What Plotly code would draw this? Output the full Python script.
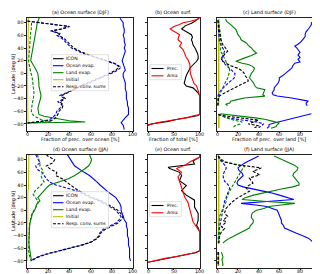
import plotly.graph_objects as go

# ---------------- data ----------------
# (a) Ocean surface (DJF): fraction of precipitation over ocean [%]
A_OCE_LAT = [87, 85, 80, 75, 70, 65, 60, 55, 50, 45, 40, 35, 30, 25, 20, 15, 10, 5, 0, -5, -10, -15, -20, -25, -30, -35, -40, -45, -50, -55, -60, -65, -70, -75, -78, -82, -86, -89]
A_OCE = [88, 89, 91, 91, 92, 92, 91, 92, 92, 93, 92, 93, 92, 91, 90, 91, 92, 93, 91, 91, 92, 93, 93, 93, 94, 94, 94, 95, 95, 96, 96, 96, 93, 90, 89, 91, 92, 92]
A_D_LAT = [82.5, 78, 74, 70, 67, 63, 60, 55, 50, 45, 40, 35, 30, 25, 20, 15, 10, 5, 0, -5, -10, -15, -20, -25, -30, -35, -40, -45, -50, -55, -60, -65, -70, -74, -76, -78.5]
A_OCE_D = [0, 20, 40, 32, 22, 30, 28, 33, 36, 38, 42, 48, 55, 65, 75, 83, 89, 86, 80, 73, 65, 58, 51, 45, 38, 31, 35, 29, 33, 31, 28, 27, 24, 20, 12, 0]
A_TOT_D = [0, 20, 40, 33, 23, 31, 30, 35, 38, 40, 44, 50, 57, 66, 76, 84, 87, 84, 78, 72, 64, 57, 50, 45, 39, 33, 36, 31, 34, 33, 30, 29, 27, 24, 14, 0]
A_LND_LAT = [88, 85, 80, 75, 70, 65, 60, 55, 50, 45, 40, 35, 30, 25, 20, 15, 10, 5, 0, -5, -10, -15, -20, -25, -30, -35, -40, -45, -50, -55, -60, -65, -68, -72, -75, -77, -78.5]
A_LND = [11.5, 10.5, 9.5, 9, 8.5, 8, 7, 6.5, 6.3, 6, 5.4, 4.5, 3.8, 3.5, 3.2, 5, 7, 8.5, 10, 10.5, 11, 11, 11, 11.5, 12, 13, 12.5, 11.7, 10.5, 10, 10.5, 11, 16, 29, 40, 55, 0]
A_LND_D_LAT = [80, 75, 70, 65, 60, 55, 50, 45, 40, 35, 30, 25, 20, 15, 10, 5, 0, -5, -10, -15, -20, -25, -30, -35, -40, -45, -50, -55, -60, -65, -68, -73, -77, -78.5]
A_LND_D = [4, 4, 3.8, 3.2, 3, 2.5, 2.2, 2, 1.8, 1.5, 1.3, 1.2, 1.3, 1.6, 2, 2.5, 3.5, 4.5, 5, 5.4, 5.5, 6, 6.3, 6.2, 5.5, 4.8, 4.4, 4, 3.8, 5, 7, 13, 23, 0]
A_INI_LAT = [88, 60, 30, 0, -30, -60, -78]
A_INI = [1.0, 0.6, 0.4, 0.3, 0.3, 0.4, 0.6]

# (b) Ocean surf.: fraction of total [%]
B_PREC_LAT = [88, 85, 82, 79, 75, 70, 66, 61, 57, 53, 49, 45, 40, 35, 31, 27, 23, 19, 14, 10, 6, 2, -2, -6, -10, -13, -16, -18, -20, -23, -27, -31, -34, -36, -45, -55, -65, -67, -70, -73, -76, -78, -80, -82]
B_PREC = [100, 96, 90, 84, 72, 65, 74, 84, 86, 84, 86, 87, 91, 94, 96, 97, 97, 94, 87, 83, 80, 77, 75, 73, 72, 71, 70, 72, 74, 87, 93, 97, 99, 100, 100, 100, 100, 95, 71, 55, 39, 22, 6, 0]
B_AREA_LAT = [88, 85, 82, 80, 77, 74, 70, 66, 61, 57, 53, 48, 43, 37, 33, 29, 25, 22, 18, 14, 10, 5, 0, -5, -10, -13, -16, -20, -24, -28, -32, -36, -45, -55, -65, -67, -70, -73, -76, -78, -80, -82]
B_AREA = [100, 95, 80, 68, 61, 50, 43, 52, 61, 59, 58, 65, 61, 68, 70, 71, 74, 77, 79, 81, 81, 81, 82, 84, 86, 87, 89, 94, 96, 98, 99, 100, 100, 100, 100, 88, 77, 55, 30, 19, 8, 0]

# (c) Land surface (DJF): fraction of precipitation over land [%]
C_OCE_LAT = [86, 83, 80, 77, 72, 66, 62, 58, 54, 50, 46, 43, 40, 37, 33, 29, 25, 22, 18, 16, 12, 8, 4, 0, -4, -7, -11, -15, -19, -23, -26, -31, -34, -36, -39, -42, -44, -47, -49, -51, None, -64, -66, -68, -70, -73, -76, -78.5, -81, -84, -87]
C_OCE = [93, 94, 91, 91, 89, 86, 85, 85, 83, 81, 78, 75, 77, 78, 80, 78, 80, 78, 80, 75, 73, 72, 69, 67, 63, 60, 60, 59, 57, 55, 55, 53, 54, 58, 72, 82, 88, 86, 86, 87, None, 91, 86, 80, 74, 67, 60, 55, 50, 50, 48]
C_LND_LAT = [86, 82, 77, 73, 69, 65, 61, 57, 53, 48, 44, 40, 36, 32, 28, 24, 21, 19, 16, 14, 11, 8, 4, 0, -4, -7, -11, -15, -19, -23, -26, -31, -34, -36, -39, -42, -44, -47, -49, -51, None, -64, -65, -68, -70.5, -73, -76, -78.5, -81, -84, -87]
C_LND = [8, 9, 13, 16, 18, 19, 20, 22, 23, 28, 30, 33, 35, 38, 33, 26, 20, 18, 24, 30, 34, 36, 35, 33, 32, 31, 33, 35, 36, 38, 46, 45, 44, 46, 26, 18, 13, 12, 8, 10, None, 3, 10, 24, 37, 47, 54, 60, 58, 57, 52]
C_D_LAT = [84, 80, 75, 70, 65, 60, 55, 50, 45, 40, 35, 30, 27, 24, 20, 16, 12, 8, 4, 0, -4, -8, -12, -16, -20, -24, -28, -32, -36, -42, -51, None, -65, -68, -71, -74, -77, -80, -83, -86]
C_OCE_D = [0.3, 0.5, 0.8, 1, 1.5, 1.7, 1.8, 2, 3.5, 5, 7, 6, 5, 4, 5, 6.5, 9, 12, 15, 17, 17, 16, 13, 10, 7.5, 5, 3, 2, 0.5, 0.4, 0.3, None, 1, 5, 12, 25, 38, 45, 43, 40]
C_TOT_D = [0.5, 0.8, 1, 1.5, 1.8, 2, 3, 4, 5.5, 8, 10, 7, 5.5, 4.5, 4, 8, 13, 20, 24, 26, 27, 29, 30, 25, 20, 15, 10, 6, 2, 1, 0.5, None, 1, 10, 25, 40, 35, 30, 40, 36]
C_LND_D = [1, 1.5, 2, 2.2, 2.8, 3.2, 3.6, 4, 3.5, 3.2, 3, 5, 6, 7, 8, 9.5, 10.5, 11.5, 12, 11.5, 11, 10, 8.5, 7.5, 6.5, 5, 4, 2.5, 1.3, 0.8, 0.5, None, 1, 5, 10, 16, 24, 22, 17, 15]
C_INI_LAT = [86, 40, 0, -40, -51, None, -64, -87]
C_INI = [1.5, 1.5, 1.2, 1.2, 1.2, None, 1.5, 1.5]

# (d) Ocean surface (JJA)
D_LAT = [88, 85, 80, 75, 70, 65, 60, 55, 50, 45, 40, 35, 30, 25, 20, 15, 10, 5, 0, -5, -10, -15, -20, -25, -30, -35, -40, -45, -50, -55, -60, -65, -70, -75, -80]
D_OCE = [38, 39, 41, 43, 45, 49, 54, 59, 63, 66, 69, 72, 76, 80, 84, 86, 88, 89, 89, 90, 91, 92, 94, 94, 95, 95, 95, 96, 96, 96, 97, 97, 97, 97, 98]
D_OCE_D = [8, 9, 11, 12, 8, 9, 14, 16, 18, 21, 27, 38, 48, 54, 60, 68, 74, 79, 84, 87, 89, 87, 84, 78, 72, 69, 68, 65, 60, 51, 39, 27, 16, 8, 3]
D_TOT_D = [18, 20, 26, 24, 18, 22, 28, 27, 33, 37, 40, 45, 50, 56, 62, 70, 76, 81, 86, 89, 91, 89, 86, 80, 74, 70, 69, 66, 61, 52, 40, 28, 17, 9, 4]
D_LND = [59, 60, 61, 60, 58, 54, 50, 45, 39, 30, 21, 18, 15, 12, 10, 12, 9, 8, 7, 5, 4, 3, 2.5, 2.2, 2, 1.8, 1.5, 1.5, 1.5, 1.7, 2, 2.5, 3, 3.5, 4]
D_LND_D = [10, 10, 11, 12, 12, 14, 15, 13, 14, 16, 13, 10, 7, 5.5, 8, 10, 10, 8, 6, 4.5, 3.5, 2.8, 2.2, 2, 1.8, 1.6, 1.5, 1.4, 1.3, 1.3, 1.3, 1.4, 1.6, 2.5, 3.8]
D_INI_LAT = [88, 70, 50, 35, 30, 0, -40, -80]
D_INI = [1.5, 1.6, 1.4, 1.2, 0.5, 0.3, 0.3, 0.3]

# (e) Ocean surf. (JJA)
E_PREC_LAT = [88, 84, 78, 73, 68, 66, 60, 55, 47, 39, 31, 24, 16, 5, -5, -16, -24, -29, -34, -45, -55, -64, -67, -70, -73, -76, -79, -82]
E_PREC = [100, 100, 87, 90, 39, 42, 61, 65, 61, 74, 65, 74, 90, 90, 97, 97, 94, 98, 100, 100, 100, 100, 92, 72, 52, 32, 15, 0]
E_AREA_LAT = [88, 84, 78, 71, 66, 60, 53, 45, 37, 29, 21, 13, 3, -8, -18, -26, -34, -45, -55, -64, -67, -70, -73, -76, -79, -82]
E_AREA = [100, 100, 84, 71, 55, 65, 58, 61, 65, 68, 71, 77, 81, 84, 87, 94, 100, 100, 100, 100, 90, 75, 55, 33, 14, 0]

# (f) Land surface (JJA)
F_LAT = [86, 83, 79, 75, 71, 67, 63, 59, 55, 51, 47, 43, 40, 37, 34, 31, 28, 24, 20, 17, 14, 11, 8.5, 6, 3, 0, -4, -8, -12, -16, -20, -24, -28, -32, -36, -40, -44, -48, -52, None, -66, -70, -74, -78, -82, -86, -88]
F_LND = [55, 59, 65, 70, 75, 78, 77, 74, 73, 75, 77, 79, 79, 73, 63, 55, 45, 35, 27, 24, 48, 75, 62, 50, 45, 38, 34, 33, 33, 35, 34.5, 32, 31, 26, 21, 16, 12, 8, 5.5, None, 4, 5, 5.5, 4.5, 5, 5.5, 5]
F_OCE = [40, 36, 31, 27, 23, 20, 21, 24, 25, 22, 20, 19, 20, 25, 34, 42, 51, 60, 68, 74, 48, 23, 37, 48, 53, 58, 59, 60, 61, 62, 62, 64, 65, 70, 76, 82, 88, 91, 94, None, 96, 97, 96, 97, 96, 97, 96]
F_D_LAT = [86, 82, 77, 72, 69.5, 67, 61.6, 56, 51, 46, 43, 39, 35, 30, 25, 22, 18, 14, 10, 6, 2, -2, -5, -9.5, -13, -16, -18, -22, -26, -29, -34, -40, -46, -52, None, -66, -74, -82, -88]
F_TOT_D = [1, 2, 5.5, 18, 31, 42.5, 34.5, 41, 31, 33, 34.5, 30, 28, 31, 25, 21.7, 18, 15, 12, 10, 8, 7, 7, 10, 8, 5.5, 8.7, 6, 4, 7, 4, 2.3, 1.8, 1.5, None, 1, 1, 1, 1]
F_LND_D = [1, 3, 7, 20, 26.5, 25, 23, 21, 19, 17, 16, 14.5, 13.5, 12, 10, 9.5, 9, 8.7, 7.5, 6.5, 5, 4, 3, 2.2, 2, 1.8, 1.6, 1.5, 1.4, 1.3, 1.2, 1, 0.9, 0.8, None, 0.5, 0.5, 0.5, 0.5]
F_OCE_D = [0.5, 2, 4, 7, 8, 8.7, 7, 5.5, 6, 7, 9, 11, 12, 11, 10, 9, 8, 7, 6.5, 6, 5.5, 5, 4.5, 4, 3.5, 3, 3, 2.5, 2.3, 2.2, 2, 1.7, 1.5, 1.2, None, 0.5, 0.5, 0.5, 0.5]
F_INI_LAT = [86, 40, 0, -52, None, -66, -88]
F_INI = [1.5, 1.3, 1.2, 1.2, None, 1.2, 1.2]
F_ICON_LAT = [86, -52, None, -66, -88]
F_ICON = [100, 100, None, 100, 100]

LAT_TICKS = [-80, -60, -40, -20, 0, 20, 40, 60, 80]
FRAC_TICKS = [0, 20, 40, 60, 80, 100]
SHARE_TICKS = [0, 50, 100]
TITLES = ["(a) Ocean surface (DJF)", "(b) Ocean surf.", "(c) Land surface (DJF)",
          "(d) Ocean surface (JJA)", "(e) Ocean surf.", "(f) Land surface (JJA)"]
XTITLES = ["Fraction of prec. over ocean [%]", "Fraction of total [%]", "Fraction of prec. over land [%]"]
LEG_MAIN = ["ICON", "Ocean evap.", "Land evap.", "Initial", "Resp. conv. sums"]
LEG_SHARE = ["Prec.", "Area"]

# ---------------- styling / layout ----------------
W, H = 320, 274
BLUE, GREEN, YEL, BLK, RED = "#0000ff", "#008000", "#bfbf00", "#000000", "#ff0000"
LW = 1.1
DASH = "3px,1.6px"
FONT = "DejaVu Sans"
FS_TICK, FS_TITLE, FS_LABEL, FS_LEG = 4.8, 4.9, 4.9, 4.6

def px(x):
    return x / W

def py(y):
    return 1 - y / H

COLS = [(19.3, 124.7), (140.0, 191.7), (209.3, 312.7)]
ROWS = [(9.5, 122.5), (146.5, 259.5)]
YRANGE = [-90.4, 88.2]

fig = go.Figure()

def add(ax, xs, ys, color, dash=None, width=LW):
    sfx = "" if ax == 1 else str(ax)
    fig.add_trace(go.Scatter(
        x=xs, y=ys, mode="lines", xaxis="x" + sfx, yaxis="y" + sfx,
        line=dict(color=color, width=width, dash=dash), connectgaps=False,
        hoverinfo="skip", showlegend=False))

# (a)
add(1, A_OCE, A_OCE_LAT, BLUE)
add(1, A_LND, A_LND_LAT, GREEN)
add(1, A_INI, A_INI_LAT, YEL)
add(1, A_OCE_D, A_D_LAT, BLUE, DASH)
add(1, A_LND_D, A_LND_D_LAT, GREEN, DASH)
add(1, A_TOT_D, A_D_LAT, BLK, DASH)
# (b)
add(2, B_PREC, B_PREC_LAT, BLK)
add(2, B_AREA, B_AREA_LAT, RED)
# (c)
add(3, C_OCE, C_OCE_LAT, BLUE)
add(3, C_LND, C_LND_LAT, GREEN)
add(3, C_INI, C_INI_LAT, YEL, None, 1.6)
add(3, C_OCE_D, C_D_LAT, BLUE, DASH)
add(3, C_LND_D, C_D_LAT, GREEN, DASH)
add(3, C_TOT_D, C_D_LAT, BLK, DASH)
# (d)
add(4, D_OCE, D_LAT, BLUE)
add(4, D_LND, D_LAT, GREEN)
add(4, D_INI, D_INI_LAT, YEL)
add(4, D_OCE_D, D_LAT, BLUE, DASH)
add(4, D_LND_D, D_LAT, GREEN, DASH)
add(4, D_TOT_D, D_LAT, BLK, DASH)
# (e)
add(5, E_PREC, E_PREC_LAT, BLK)
add(5, E_AREA, E_AREA_LAT, RED)
# (f)
add(6, F_ICON, F_ICON_LAT, BLK)
add(6, F_OCE, F_LAT, BLUE)
add(6, F_LND, F_LAT, GREEN)
add(6, F_INI, F_INI_LAT, YEL, None, 1.6)
add(6, F_OCE_D, F_D_LAT, BLUE, DASH)
add(6, F_LND_D, F_D_LAT, GREEN, DASH)
add(6, F_TOT_D, F_D_LAT, BLK, DASH)

layout = dict(
    width=W, height=H, margin=dict(l=0, r=0, t=0, b=0),
    paper_bgcolor="white", plot_bgcolor="white",
    font=dict(family=FONT, size=FS_TICK, color="black"),
    showlegend=False,
)
annotations = []
shapes = []

def note(**kw):
    kw.setdefault("showarrow", False)
    kw.setdefault("borderpad", 0)
    annotations.append(kw)

for r, (yt, yb) in enumerate(ROWS):
    for c, (xl, xr) in enumerate(COLS):
        k = r * 3 + c + 1
        sx = "" if k == 1 else str(k)
        xt = SHARE_TICKS if c == 1 else FRAC_TICKS
        layout["xaxis" + sx] = dict(
            domain=[px(xl), px(xr)], range=[0, 100], anchor="y" + sx,
            tickvals=xt, showticklabels=False,
            ticks="outside", ticklen=2, tickwidth=0.6, tickcolor="#222",
            showline=True, mirror=True, linecolor="#222", linewidth=0.8,
            showgrid=False, zeroline=False, fixedrange=True)
        layout["yaxis" + sx] = dict(
            domain=[py(yb), py(yt)], range=YRANGE, anchor="x" + sx,
            tickvals=LAT_TICKS, showticklabels=(c == 0),
            ticks="outside", ticklen=2, tickwidth=0.6, tickcolor="#222",
            showline=True, mirror=True, linecolor="#222", linewidth=0.8,
            showgrid=False, zeroline=False, tickfont=dict(size=FS_TICK),
            fixedrange=True)
        # x tick labels placed on the axis scale
        for v in xt:
            note(text=str(v), x=v, xref="x" + sx, y=py(yb + 3.9), yref="paper",
                 xanchor="center", yanchor="middle", font=dict(size=FS_TICK))
        note(text=TITLES[k - 1], x=px((xl + xr) / 2), y=py(yt - 5.3),
             xref="paper", yref="paper", xanchor="center", yanchor="middle",
             font=dict(size=FS_TITLE))
        note(text=XTITLES[c], x=px((xl + xr) / 2), y=py(yb + 8.8),
             xref="paper", yref="paper", xanchor="center", yanchor="middle",
             font=dict(size=FS_LABEL))
    note(text="Latitude [deg N]", x=px(5), y=py((yt + yb) / 2), textangle=-90,
         xref="paper", yref="paper", xanchor="center", yanchor="middle",
         font=dict(size=FS_LABEL))

    off = 137 * r
    # main legend
    shapes.append(dict(type="rect", xref="paper", yref="paper",
                       x0=px(43.3), x1=px(100.5), y0=py(46.7 + off), y1=py(82.7 + off),
                       fillcolor="rgba(255,255,255,0.8)", line=dict(color="#cccccc", width=0.6),
                       layer="above"))
    styles = [(BLK, None), (BLUE, None), (GREEN, None), (YEL, None), (BLK, "dash")]
    for i, (lab, (col, ds)) in enumerate(zip(LEG_MAIN, styles)):
        yy = 50.7 + 7 * i + off
        shapes.append(dict(type="line", xref="paper", yref="paper",
                           x0=px(45), x1=px(55.5), y0=py(yy), y1=py(yy),
                           line=dict(color=col, width=LW, dash=("3px,1.5px" if ds else None)),
                           layer="above"))
        note(text=lab, x=px(57.3), y=py(yy), xref="paper", yref="paper",
             xanchor="left", yanchor="middle", font=dict(size=FS_LEG))
    # share legend
    shapes.append(dict(type="rect", xref="paper", yref="paper",
                       x0=px(141.7), x1=px(173.3), y0=py(56.7 + off), y1=py(71.7 + off),
                       fillcolor="rgba(255,255,255,0.8)", line=dict(color="#cccccc", width=0.6),
                       layer="above"))
    for i, (lab, col) in enumerate(zip(LEG_SHARE, [BLK, RED])):
        yy = 60.5 + 7.3 * i + off
        shapes.append(dict(type="line", xref="paper", yref="paper",
                           x0=px(143.5), x1=px(155.5), y0=py(yy), y1=py(yy),
                           line=dict(color=col, width=LW), layer="above"))
        note(text=lab, x=px(157.5), y=py(yy), xref="paper", yref="paper",
             xanchor="left", yanchor="middle", font=dict(size=FS_LEG))

layout["annotations"] = annotations
layout["shapes"] = shapes
fig.update_layout(**layout)
fig.write_html("out.html")
